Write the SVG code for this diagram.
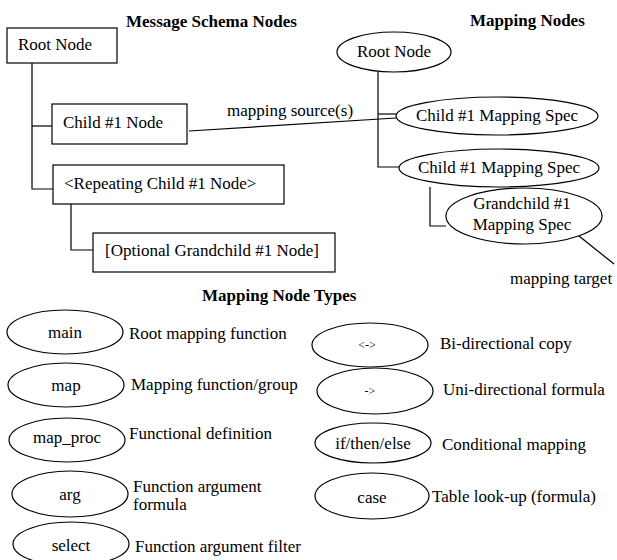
<svg xmlns="http://www.w3.org/2000/svg" width="617" height="560" viewBox="0 0 617 560">
  <style>
    text { font-family: "Liberation Serif", "Times New Roman", serif; font-size: 17px; fill: #000; }
    .h { font-weight: bold; font-size: 17px; }
    .c { text-anchor: middle; }
    .sm { font-size: 12px; }
    .box, .ell { fill: #fff; stroke: #000; stroke-width: 1.2; }
    .ln { fill: none; stroke: #000; stroke-width: 1.2; }
  </style>
  <rect width="617" height="560" fill="#fff"/>

  <!-- section headings -->
  <text class="h" x="126" y="27">Message Schema Nodes</text>
  <text class="h" x="470" y="26">Mapping Nodes</text>
  <text class="h" x="202" y="301">Mapping Node Types</text>

  <!-- connectors -->
  <g id="connectors">
    <path class="ln" d="M32,63 V189 H53"/>
    <path class="ln" d="M32,126 H52"/>
    <path class="ln" d="M71,204 V250 H93"/>
    <path class="ln" d="M189,131 L396,118"/>
    <path class="ln" d="M378,72 V167 H399"/>
    <path class="ln" d="M378,114 H397"/>
    <path class="ln" d="M430,187 V226 H446"/>
    <path class="ln" d="M579,236 L614,264"/>
    <text x="227" y="116">mapping source(s)</text>
    <text x="510" y="284">mapping target</text>
  </g>

  <!-- message schema nodes -->
  <g id="schema-root">
    <rect class="box" x="7" y="28" width="110" height="35"/>
    <text x="18" y="50">Root Node</text>
  </g>
  <g id="schema-child">
    <rect class="box" x="52" y="104" width="135" height="40"/>
    <text x="63" y="128">Child #1 Node</text>
  </g>
  <g id="schema-repeating">
    <rect class="box" x="53" y="165" width="231" height="39"/>
    <text x="64" y="189">&lt;Repeating Child #1 Node&gt;</text>
  </g>
  <g id="schema-optional">
    <rect class="box" x="93" y="233" width="242" height="39"/>
    <text x="105" y="256">[Optional Grandchild #1 Node]</text>
  </g>

  <!-- mapping nodes -->
  <g id="map-root">
    <ellipse class="ell" cx="394" cy="52" rx="57" ry="20"/>
    <text class="c" x="394" y="57">Root Node</text>
  </g>
  <g id="map-child-a">
    <ellipse class="ell" cx="497" cy="116" rx="101" ry="19"/>
    <text class="c" x="497" y="121">Child #1 Mapping Spec</text>
  </g>
  <g id="map-child-b">
    <ellipse class="ell" cx="499" cy="168" rx="100" ry="19"/>
    <text class="c" x="499" y="173">Child #1 Mapping Spec</text>
  </g>
  <g id="map-grandchild">
    <ellipse class="ell" cx="524" cy="216" rx="78" ry="28"/>
    <text class="c" x="522" y="209">Grandchild #1</text>
    <text class="c" x="522" y="230">Mapping Spec</text>
  </g>

  <!-- node type legend -->
  <g id="type-main">
    <ellipse class="ell" cx="65" cy="332" rx="58" ry="22"/>
    <text class="c" x="65" y="338">main</text>
    <text x="129" y="339">Root mapping function</text>
  </g>
  <g id="type-map">
    <ellipse class="ell" cx="66" cy="385" rx="58" ry="22"/>
    <text class="c" x="66" y="391">map</text>
    <text x="131" y="390">Mapping function/group</text>
  </g>
  <g id="type-map-proc">
    <ellipse class="ell" cx="67" cy="440" rx="58" ry="22"/>
    <text class="c" x="67" y="443">map_proc</text>
    <text x="129" y="439">Functional definition</text>
  </g>
  <g id="type-arg">
    <ellipse class="ell" cx="70" cy="494" rx="58" ry="23"/>
    <text class="c" x="70" y="500">arg</text>
    <text x="133" y="492">Function argument</text>
    <text x="133" y="510">formula</text>
  </g>
  <g id="type-select">
    <ellipse class="ell" cx="71" cy="544" rx="58" ry="22"/>
    <text class="c" x="71" y="551">select</text>
    <text x="135" y="552">Function argument filter</text>
  </g>
  <g id="type-bidi">
    <ellipse class="ell" cx="370" cy="345" rx="58" ry="22"/>
    <text class="c sm" x="367" y="349">&lt;-&gt;</text>
    <text x="440" y="349">Bi-directional copy</text>
  </g>
  <g id="type-uni">
    <ellipse class="ell" cx="375" cy="391" rx="58" ry="23"/>
    <text class="c sm" x="370" y="395">-&gt;</text>
    <text x="443" y="395">Uni-directional formula</text>
  </g>
  <g id="type-cond">
    <ellipse class="ell" cx="373" cy="443" rx="58" ry="20"/>
    <text class="c" x="373" y="449">if/then/else</text>
    <text x="442" y="450">Conditional mapping</text>
  </g>
  <g id="type-case">
    <ellipse class="ell" cx="372" cy="496" rx="57" ry="23"/>
    <text class="c" x="372" y="503">case</text>
    <text x="432" y="502">Table look-up (formula)</text>
  </g>
</svg>
